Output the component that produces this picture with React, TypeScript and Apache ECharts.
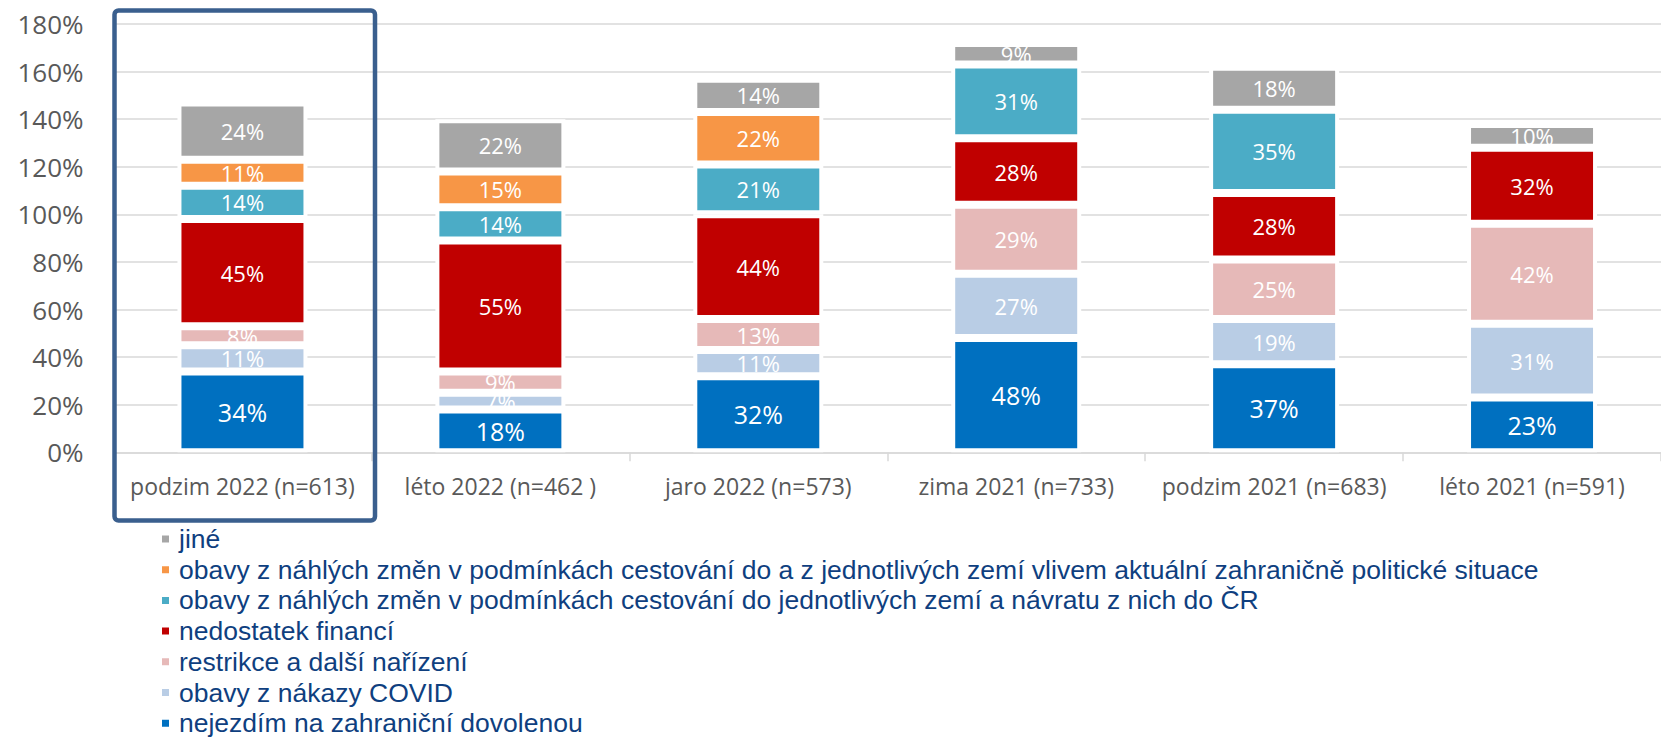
import React, { useEffect, useRef } from "react";
import * as echarts from "echarts";

const categories = [
  "podzim 2022 (n=613)",
  "léto 2022 (n=462 )",
  "jaro 2022 (n=573)",
  "zima 2021 (n=733)",
  "podzim 2021 (n=683)",
  "léto 2021 (n=591)",
];

const seriesNames = [
  "nejezdím na zahraniční dovolenou",
  "obavy z nákazy COVID",
  "restrikce a další nařízení",
  "nedostatek financí",
  "obavy z náhlých změn v podmínkách cestování do jednotlivých zemí a návratu z nich do ČR",
  "obavy z náhlých změn v podmínkách cestování do a z jednotlivých zemí vlivem aktuální zahraničně politické situace",
  "jiné",
];

const nejezdim = [34, 18, 32, 48, 37, 23];
const covid = [11, 7, 11, 27, 19, 31];
const restrikce = [8, 9, 13, 29, 25, 42];
const finance = [45, 55, 44, 28, 28, 32];
const obavyCR = [14, 14, 21, 31, 35, null];
const obavyPolit = [11, 15, 22, null, null, null];
const jine = [24, 22, 14, 9, 18, 10];

const seriesValues = [nejezdim, covid, restrikce, finance, obavyCR, obavyPolit, jine];
const colors = ["#0070C0", "#B9CDE5", "#E6B9B8", "#C00000", "#4BACC6", "#F79646", "#A6A6A6"];
const yTicks = { min: 0, max: 180, interval: 20 };

export default function App() {
  const ref = useRef<HTMLDivElement>(null);
  useEffect(() => {
    if (!ref.current) return;
    const chart = echarts.init(ref.current, undefined, { renderer: "svg" });
    const series = seriesNames.map((name, i) => ({
      name,
      type: "bar",
      stack: "total",
      barWidth: 130,
      data: seriesValues[i],
      itemStyle: { color: colors[i], borderColor: "#ffffff", borderWidth: 4 },
      label: {
        show: true,
        position: "inside",
        formatter: "{c}%",
        color: "#ffffff",
        fontFamily: "Open Sans",
        fontSize: i === 0 ? 25 : 22,
      },
    }));
    chart.setOption({
      animation: false,
      backgroundColor: "#ffffff",
      grid: { left: 113.5, right: -7, top: 24, bottom: 284.7, containLabel: false },
      xAxis: {
        type: "category",
        data: categories,
        axisLine: { show: true, lineStyle: { color: "#D9D9D9", width: 1.5 } },
        axisTick: { show: true, length: 9, lineStyle: { color: "#D9D9D9", width: 1.5 } },
        axisLabel: { interval: 0, color: "#595959", fontFamily: "Open Sans", fontSize: 23, margin: 22 },
      },
      yAxis: {
        type: "value",
        min: yTicks.min,
        max: yTicks.max,
        interval: yTicks.interval,
        axisLine: { show: false },
        axisTick: { show: false },
        splitLine: { lineStyle: { color: "#D9D9D9", width: 1.5 } },
        axisLabel: { formatter: "{value}%", color: "#595959", fontFamily: "Open Sans", fontSize: 26, margin: 30 },
      },
      legend: {
        orient: "vertical",
        left: 160,
        top: 525,
        height: 240,
        padding: 0,
        icon: "rect",
        itemWidth: 9,
        itemHeight: 9,
        itemGap: 2.7,
        data: [...seriesNames].reverse(),
        textStyle: {
          color: "#0F3F7F",
          fontFamily: "Liberation Sans",
          fontSize: 26.5,
          lineHeight: 28,
          padding: [0, 0, 0, 4],
        },
      },
      graphic: [
        {
          type: "rect",
          z: 100,
          shape: { x: 114.5, y: 10.5, width: 260.5, height: 510, r: 4 },
          style: { fill: "none", stroke: "#3A5F8E", lineWidth: 4.5 },
        },
      ],
      series,
    });
    return () => chart.dispose();
  }, []);
  return (
    <div
      ref={ref}
      style={{ position: "absolute", left: 0, top: 0, width: 1661, height: 737 }}
    />
  );
}
